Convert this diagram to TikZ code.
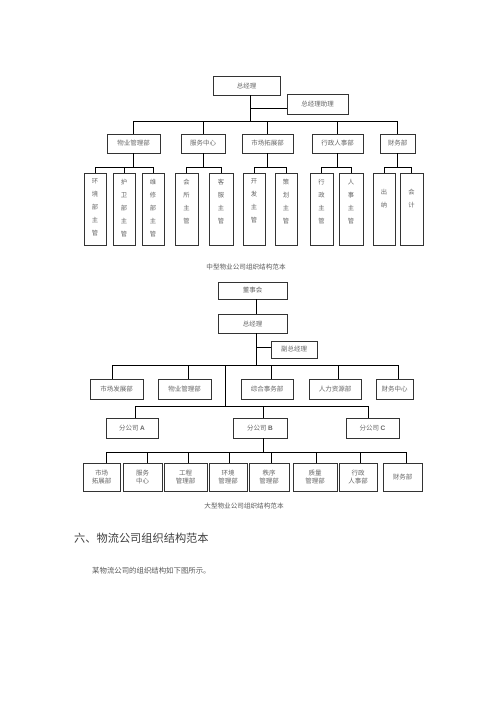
\documentclass[tikz,border=0pt]{standalone}
\usepackage{fontspec}
\setmainfont{Noto Sans CJK SC}
\newfontfamily\lat{Liberation Sans}
\begin{document}
\begin{tikzpicture}[x=1pt,y=-1pt,
  box/.style={draw=black!80,line width=0.7pt,inner sep=0pt,text=black!60,font=\fontsize{6.5}{8}\selectfont,align=center},
  vtext/.style={anchor=north,inner sep=0pt,text=black!60,align=center,font=\fontsize{6.3}{13}\selectfont},
  conn/.style={draw=black,line width=0.7pt},
  captxt/.style={inner sep=0pt,text=black!65,font=\fontsize{6.6}{8}\selectfont}]
\newcommand\bx[6]{\node[box,minimum width={#4-#2},minimum height={#5-#3}] (#1) at ({(#2+#4)/2},{(#3+#5)/2}) {#6};}
\useasboundingbox[fill=white] (0,0) rectangle (500,707);

% ---------- chart 1 ----------
\bx{gma}{213}{76}{280}{95}{总经理}
\bx{asst}{287}{94}{348}{114}{总经理助理}
\coordinate (t1) at (250,121);
\draw[conn] (gma.south -| t1) -- (t1);
\draw[conn] ([yshift=-4pt]asst.west) -- ([yshift=-4pt]asst.west -| t1);

\bx{da}{107}{134}{160}{153}{物业管理部}
\bx{db}{181}{134}{225}{153}{服务中心}
\bx{dc}{242}{134}{293}{153}{市场拓展部}
\bx{dd}{312}{134}{363}{153}{行政人事部}
\bx{de}{380}{134}{415}{153}{财务部}
\draw[conn] (da.north) -- (da.north |- t1) -- (de.north |- t1) -- (de.north);
\foreach \n in {db,dc,dd} \draw[conn] (\n.north) -- (\n.north |- t1);

\newcommand\vb[6]{\node[box,minimum width={#4-#2},minimum height={#5-#3}] (#1) at ({(#2+#4)/2},{(#3+#5)/2}) {};}
\vb{ea}{84}{173}{106}{245}{}
\vb{eb}{113}{173}{135}{245}{}
\vb{ec}{142}{173}{164}{245}{}
\vb{fa}{175}{173}{198}{245}{}
\vb{fb}{209}{173}{233}{245}{}
\vb{ga}{243}{173}{265}{245}{}
\vb{gb}{275}{173}{297}{245}{}
\vb{ha}{310}{173}{333}{245}{}
\vb{hb}{339}{173}{363}{245}{}
\vb{ia}{373}{173}{395}{245}{}
\vb{ib}{400}{173}{423}{245}{}
\node[vtext] (eat) at ([yshift=-6pt]ea.north) {环\\境\\部\\主\\管};
\node[vtext] (ebt) at ([yshift=-6pt]eb.north) {护\\卫\\部\\主\\管};
\node[vtext] (ect) at ([yshift=-6pt]ec.north) {维\\修\\部\\主\\管};
\node[vtext] (fat) at ([yshift=-6pt]fa.north) {会\\所\\主\\管};
\node[vtext] (fbt) at ([yshift=-6pt]fb.north) {客\\服\\主\\管};
\node[vtext] (gat) at ([yshift=-6pt]ga.north) {开\\发\\主\\管};
\node[vtext] (gbt) at ([yshift=-6pt]gb.north) {策\\划\\主\\管};
\node[vtext] (hat) at ([yshift=-6pt]ha.north) {行\\政\\主\\管};
\node[vtext] (hbt) at ([yshift=-6pt]hb.north) {人\\事\\主\\管};
\node[vtext] (iat) at ([yshift=-16pt]ia.north) {出\\纳};
\node[vtext] (ibt) at ([yshift=-16pt]ib.north) {会\\计};

\coordinate (s1) at (0,167);
\draw[conn] (ea.north) -- (ea.north |- s1) -- (ec.north |- s1) -- (ec.north);
\draw[conn] (eb.north) -- (eb.north |- s1);
\draw[conn] (da.south) -- (da.south |- s1);
\draw[conn] (fa.north) -- (fa.north |- s1) -- (fb.north |- s1) -- (fb.north);
\draw[conn] (db.south) -- (db.south |- s1);
\draw[conn] (ga.north) -- (ga.north |- s1) -- (gb.north |- s1) -- (gb.north);
\draw[conn] (dc.south) -- (dc.south |- s1);
\draw[conn] (ha.north) -- (ha.north |- s1) -- (hb.north |- s1) -- (hb.north);
\draw[conn] (dd.south) -- (dd.south |- s1);
\draw[conn] (ia.north) -- (ia.north |- s1) -- (ib.north |- s1) -- (ib.north);
\draw[conn] (de.south) -- (de.south |- s1);

\node[captxt] (cap1) at (246,267) {中型物业公司组织结构范本};

% ---------- chart 2 ----------
\bx{board}{218}{282}{287}{299}{董事会}
\bx{gmb}{218}{314}{287}{333}{总经理}
\bx{vp}{271}{341}{317}{358}{副总经理}
\coordinate (t2) at (256.5,365);
\draw[conn] (board.south -| t2) -- (gmb.north -| t2);
\draw[conn] (gmb.south -| t2) -- (t2);
\draw[conn] ([yshift=2.5pt]vp.west) -- ([yshift=2.5pt]vp.west -| t2);

\bx{ma}{90}{379}{143}{399}{市场发展部}
\bx{mb}{158}{379}{211}{399}{物业管理部}
\bx{mc}{241}{379}{293}{399}{综合事务部}
\bx{md}{309}{379}{361}{399}{人力资源部}
\bx{me}{376}{379}{413}{399}{财务中心}
\draw[conn] ([xshift=-4pt]ma.north) -- ([xshift=-4pt]ma.north |- t2) -- ([xshift=4pt]me.north |- t2) -- ([xshift=4pt]me.north);
\draw[conn] ([xshift=4pt]mb.north) -- ([xshift=4pt]mb.north |- t2);
\draw[conn] ([xshift=4pt]mc.north) -- ([xshift=4pt]mc.north |- t2);
\draw[conn] ([xshift=3pt]md.north) -- ([xshift=3pt]md.north |- t2);

\coordinate (t3) at (225.7,406);
\draw[conn] (t3 |- t2) -- (t3);
\bx{ba}{106}{418}{158}{438}{分公司 {\lat\bfseries A}}
\bx{bb}{233}{418}{287}{438}{分公司 {\lat\bfseries B}}
\bx{bc}{346}{418}{399}{438}{分公司 {\lat\bfseries C}}
\draw[conn] ([xshift=3pt]ba.north) -- ([xshift=3pt]ba.north |- t3) -- ([xshift=-4pt]bc.north |- t3) -- ([xshift=-4pt]bc.north);
\draw[conn] ([xshift=3pt]bb.north) -- ([xshift=3pt]bb.north |- t3);

\bx{na}{83}{463}{120}{491}{市场\\拓展部}
\bx{nb}{123}{463}{162}{491}{服务\\中心}
\bx{nc}{164}{463}{207}{491}{工程\\管理部}
\bx{nd}{209}{463}{247}{491}{环境\\管理部}
\bx{ne}{249}{463}{289}{491}{秩序\\管理部}
\bx{nf}{293}{463}{337}{491}{质量\\管理部}
\bx{ng}{339}{463}{377}{491}{行政\\人事部}
\bx{nh}{383}{463}{422}{491}{财务部}
\coordinate (t4) at (0,452);
\draw[conn] ([xshift=3pt]bb.south) -- ([xshift=3pt]bb.south |- t4);
\draw[conn] ([xshift=4.5pt]na.north) -- ([xshift=4.5pt]na.north |- t4) -- ([xshift=3.5pt]nh.north |- t4) -- ([xshift=3.5pt]nh.north);
\draw[conn] ([xshift=5pt]nb.north) -- ([xshift=5pt]nb.north |- t4);
\draw[conn] ([xshift=3pt]nc.north) -- ([xshift=3pt]nc.north |- t4);
\draw[conn] ([xshift=1pt]nd.north) -- ([xshift=1pt]nd.north |- t4);
\draw[conn] ([xshift=2.5pt]ne.north) -- ([xshift=2.5pt]ne.north |- t4);
\draw[conn] ([xshift=1pt]nf.north) -- ([xshift=1pt]nf.north |- t4);
\draw[conn] ([xshift=2pt]ng.north) -- ([xshift=2pt]ng.north |- t4);

\node[captxt] (cap2) at (244,506) {大型物业公司组织结构范本};

% ---------- text ----------
\node[anchor=west,inner sep=0pt,text=black!75,font=\fontsize{11.2}{13}\selectfont] (head) at (74,538.5) {六、物流公司组织结构范本};
\node[anchor=west,inner sep=0pt,text=black!65,font=\fontsize{7.4}{9}\selectfont] (body) at (92,571) {某物流公司的组织结构如下图所示。};
\end{tikzpicture}
\end{document}
